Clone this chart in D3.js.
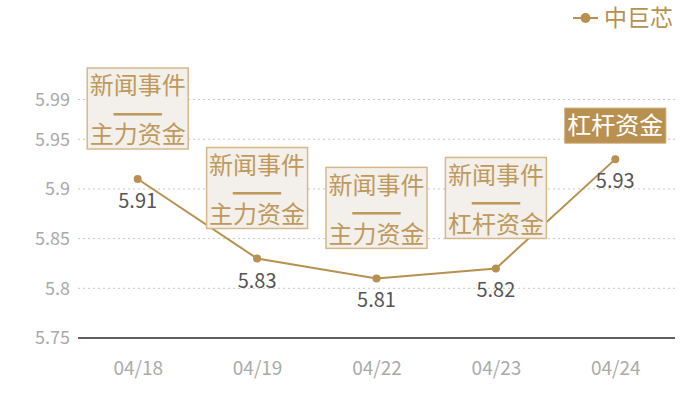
<!DOCTYPE html>
<html>
<head>
<meta charset="utf-8">
<script src="https://cdn.jsdelivr.net/npm/d3@7"></script>
<style>
  body { margin: 0; background: #fff; }
  svg { display: block; font-family: "Noto Sans CJK SC", "Noto Sans", sans-serif; }
</style>
</head>
<body>
<svg id="chart" width="700" height="400"></svg>
<script>
// chart data
var dates = ["04/18", "04/19", "04/22", "04/23", "04/24"];
var prices = [5.91, 5.83, 5.81, 5.82, 5.93];
var events = [
  ["新闻事件", "主力资金"],
  ["新闻事件", "主力资金"],
  ["新闻事件", "主力资金"],
  ["新闻事件", "杠杆资金"],
  ["杠杆资金"]
];
var yTicks = [5.75, 5.8, 5.85, 5.9, 5.95, 5.99];
var seriesName = "中巨芯";

var gold = "#b8904f";
var plotLeft = 78, plotRight = 675, plotTop = 100, plotBottom = 338;

var svg = d3.select("#chart");

var x = d3.scalePoint()
  .domain(dates)
  .range([plotLeft, plotRight])
  .padding(0.5);

var y = d3.scaleLinear()
  .domain([5.75, 5.99])
  .range([plotBottom, plotTop - 0.5]);

// grid lines
svg.append("g")
  .selectAll("line")
  .data(yTicks.slice(1))
  .enter().append("line")
  .attr("x1", plotLeft)
  .attr("x2", plotRight)
  .attr("y1", d => y(d))
  .attr("y2", d => y(d))
  .attr("stroke", "#c8c8c8")
  .attr("stroke-dasharray", "2,3");

// y axis (labels only)
var yAxis = svg.append("g")
  .attr("transform", "translate(" + plotLeft + ",0)")
  .call(d3.axisLeft(y).tickValues(yTicks).tickSize(0).tickPadding(8).tickFormat(d3.format("")));
yAxis.select(".domain").remove();
yAxis.selectAll("text")
  .attr("fill", "#aaa")
  .style("font-size", "18px")
  .style("font-family", "'Noto Sans CJK SC', sans-serif");

// x axis
var xAxis = svg.append("g")
  .attr("transform", "translate(0," + plotBottom + ")")
  .call(d3.axisBottom(x).tickSize(0).tickPadding(24));
xAxis.select(".domain")
  .attr("stroke", "#2a2a2a")
  .attr("stroke-width", 1.5)
  .attr("d", "M" + plotLeft + ",0H" + plotRight);
xAxis.selectAll("text")
  .attr("fill", "#aaa")
  .style("font-size", "19px")
  .style("font-family", "'Noto Sans CJK SC', sans-serif");

// line
var line = d3.line()
  .x((d, i) => x(dates[i]))
  .y(d => y(d));

svg.append("path")
  .datum(prices)
  .attr("d", line)
  .attr("fill", "none")
  .attr("stroke", gold)
  .attr("stroke-width", 2);

svg.append("g")
  .selectAll("circle")
  .data(prices)
  .enter().append("circle")
  .attr("cx", (d, i) => x(dates[i]))
  .attr("cy", d => y(d))
  .attr("r", 4)
  .attr("fill", gold);

// value labels
svg.append("g")
  .selectAll("text")
  .data(prices)
  .enter().append("text")
  .attr("x", (d, i) => x(dates[i]))
  .attr("y", d => y(d) + 29)
  .attr("text-anchor", "middle")
  .attr("fill", "#555")
  .style("font-size", "20px")
  .text(d => d);

// event boxes
var boxW = 101;
events.forEach(function(ev, i) {
  var cx = x(dates[i]);
  var py = y(prices[i]);
  var g = svg.append("g");
  if (ev.length > 1) {
    var h = 81;
    var b = py - 30;
    g.append("rect")
      .attr("x", cx - boxW / 2)
      .attr("y", b - h)
      .attr("width", boxW)
      .attr("height", h)
      .attr("fill", "#f3f0eb")
      .attr("stroke", "#d4b88c")
      .attr("stroke-width", 1.5);
    var lines = [ev[0], "——", ev[1]];
    lines.forEach(function(t, j) {
      var txt = g.append("text")
        .attr("x", cx)
        .attr("y", b - h + 18 + j * 24.5)
        .attr("dy", "0.35em")
        .attr("text-anchor", "middle")
        .attr("fill", "#bf995c")
        .style("font-size", "24px")
        .text(t);
      if (j === 1) {
        txt.attr("y", b - h + 20 + j * 24.5)
          .attr("textLength", 50)
          .attr("lengthAdjust", "spacingAndGlyphs")
          .attr("stroke", "#bf995c")
          .attr("stroke-width", 0.8);
      }
    });
  } else {
    var h1 = 35;
    var b1 = py - 16;
    g.append("rect")
      .attr("x", cx - boxW / 2)
      .attr("y", b1 - h1)
      .attr("width", boxW)
      .attr("height", h1)
      .attr("fill", gold)
      .attr("stroke", "#c9a56c");
    g.append("text")
      .attr("x", cx)
      .attr("y", b1 - h1 / 2)
      .attr("dy", "0.35em")
      .attr("text-anchor", "middle")
      .attr("fill", "#fff")
      .style("font-size", "24px")
      .text(ev[0]);
  }
});

// legend
var legend = svg.append("g").attr("transform", "translate(573,18)");
legend.append("line")
  .attr("x1", 0).attr("x2", 25)
  .attr("stroke", gold).attr("stroke-width", 2);
legend.append("circle")
  .attr("cx", 12.5).attr("r", 5).attr("fill", gold);
legend.append("text")
  .attr("x", 31)
  .attr("dy", "0.35em")
  .attr("fill", gold)
  .style("font-size", "23px")
  .text(seriesName);
</script>
</body>
</html>
